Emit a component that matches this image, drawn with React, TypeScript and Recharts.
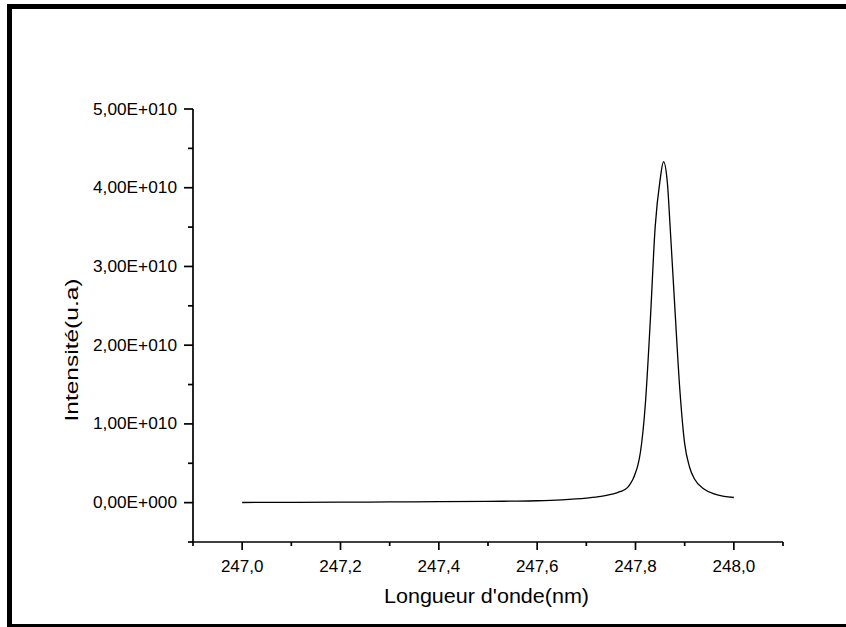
import React from 'react';
import { LineChart, Line, XAxis, YAxis } from 'recharts';

// Wavelength (nm)
const wavelengths = [
  247.0, 247.1, 247.2, 247.3, 247.4, 247.5, 247.55, 247.6, 247.65, 247.7,
  247.73, 247.75, 247.76, 247.77, 247.78, 247.785, 247.79, 247.795, 247.8, 247.805,
  247.81, 247.82, 247.83, 247.84, 247.85, 247.857, 247.865, 247.87, 247.88, 247.89,
  247.9, 247.91, 247.92, 247.94, 247.96, 247.98, 248.0,
];
// Intensity in units of 1E+010
const intensities = [
  0.002, 0.004, 0.006, 0.009, 0.012, 0.016, 0.019, 0.024, 0.036, 0.058,
  0.08, 0.105, 0.122, 0.142, 0.172, 0.2, 0.245, 0.3, 0.38, 0.48,
  0.64, 1.25, 2.3, 3.5, 4.1, 4.33, 4.05, 3.55, 2.48, 1.45,
  0.75, 0.45, 0.3, 0.17, 0.11, 0.08, 0.065,
];

const xMajorTicks = [247.0, 247.2, 247.4, 247.6, 247.8, 248.0];
const xMinorTicks = [246.9, 247.1, 247.3, 247.5, 247.7, 247.9, 248.1];
const yMajorTicks = [0, 1, 2, 3, 4, 5];
const yMinorTicks = [-0.5, 0.5, 1.5, 2.5, 3.5, 4.5];

const xTicks = [...xMajorTicks, ...xMinorTicks].sort((a, b) => a - b);
const yTicks = [...yMajorTicks, ...yMinorTicks].sort((a, b) => a - b);

const data = wavelengths.map((x, i) => ({ x, y: intensities[i] }));

const FONT = '"Liberation Sans", Arial, sans-serif';
const isMajor = (v: number, list: number[]) => list.some((m) => Math.abs(m - v) < 1e-6);
const fmtX = (v: number) => v.toFixed(1).replace('.', ',');
const fmtY = (v: number) => (v === 0 ? '0,00E+000' : `${v.toFixed(2).replace('.', ',')}E+010`);

const YTick = (props: any) => {
  const { x, y, payload } = props;
  const v = payload.value;
  const major = isMajor(v, yMajorTicks);
  return (
    <g>
      <line x1={x - (major ? 9 : 5)} x2={x} y1={y} y2={y} stroke="#000" strokeWidth={1.7} />
      {major && (
        <text
          x={x - 100}
          y={y}
          dy={5.5}
          textAnchor="start"
          fontSize={16.5}
          fontFamily={FONT}
          fill="#000"
          textLength={84}
          lengthAdjust="spacingAndGlyphs"
        >
          {fmtY(v)}
        </text>
      )}
    </g>
  );
};

const XTick = (props: any) => {
  const { x, y, payload } = props;
  const v = payload.value;
  const major = isMajor(v, xMajorTicks);
  return (
    <g>
      <line x1={x} x2={x} y1={y} y2={y + (major ? 8 : 4)} stroke="#000" strokeWidth={1.7} />
      {major && (
        <text x={x} y={y + 30} textAnchor="middle" fontSize={17} fontFamily={FONT} fill="#000">
          {fmtX(v)}
        </text>
      )}
    </g>
  );
};

const YTitle = () => (
  <text
    x={78}
    y={350}
    transform="rotate(-90, 78, 350)"
    textAnchor="middle"
    fontSize={18}
    fontFamily={FONT}
    fill="#000"
    textLength={143}
    lengthAdjust="spacingAndGlyphs"
  >
    Intensité(u.a)
  </text>
);

const XTitle = () => (
  <text
    x={384}
    y={603}
    textAnchor="start"
    fontSize={21}
    fontFamily={FONT}
    fill="#000"
    textLength={205}
    lengthAdjust="spacingAndGlyphs"
  >
    Longueur d'onde(nm)
  </text>
);

export default function App() {
  return (
    <div style={{ position: 'absolute', left: 0, top: 0, width: 846, height: 627, overflow: 'hidden', background: '#fff' }}>
      <div
        style={{
          position: 'absolute',
          left: 7,
          top: 4,
          width: 850,
          height: 625,
          border: '5px solid #000',
          boxSizing: 'border-box',
        }}
      />
      <div style={{ position: 'absolute', left: 0, top: 0 }}>
        <LineChart width={846} height={627} data={data} margin={{ top: 109, right: 63, bottom: 0, left: 73 }}>
          <XAxis
            dataKey="x"
            type="number"
            domain={[246.9, 248.1]}
            allowDataOverflow
            ticks={xTicks}
            interval={0}
            height={85}
            tickSize={0}
            tickMargin={0}
            tickLine={false}
            tick={XTick}
            axisLine={{ stroke: '#000', strokeWidth: 1.7 }}
            label={{ content: XTitle }}
          />
          <YAxis
            type="number"
            domain={[-0.5, 5]}
            allowDataOverflow
            ticks={yTicks}
            interval={0}
            width={120}
            tickSize={0}
            tickMargin={0}
            tickLine={false}
            tick={YTick}
            axisLine={{ stroke: '#000', strokeWidth: 1.7 }}
            label={{ content: YTitle }}
          />
          <Line
            type="monotone"
            dataKey="y"
            stroke="#000"
            strokeWidth={1.3}
            dot={false}
            isAnimationActive={false}
          />
        </LineChart>
      </div>
    </div>
  );
}
